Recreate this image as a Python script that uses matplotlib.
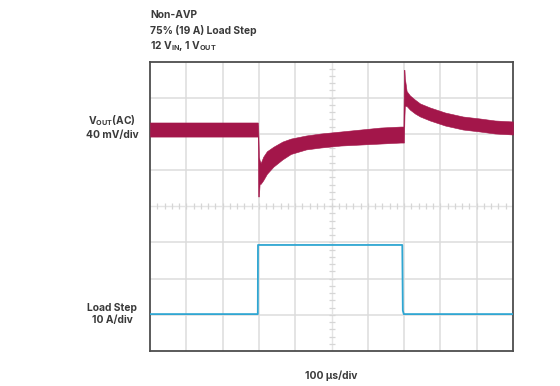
import numpy as np
import matplotlib
matplotlib.use("Agg")
import matplotlib.pyplot as plt

# ---- data ----
# VOUT (AC) band envelope: time in us, deviation in mV from pre-step level
vout_t = [0, 297, 298, 300, 302, 305, 312, 322, 340, 365, 388, 430, 470, 525,
          580, 635, 690, 698, 699.5, 701, 702, 707, 716, 730, 744, 771, 813,
          862, 909, 950, 1000]
vout_top = [7.8, 7.8, 4, -30, -34, -37, -30, -24, -19, -13.3, -10, -6.6, -4.4,
            -2.2, 0, 2.2, 3.3, 3.3, 66, 66, 57, 42.5, 37.7, 33, 28.8, 24.4,
            18.8, 14.4, 12.2, 10, 8.9]
vout_bot = [-7.8, -7.8, -74, -74, -60, -60, -56, -49, -41, -33, -27, -22, -19.9,
            -17.7, -16.6, -15.5, -14.4, -14.4, -14.4, 15, 26, 26, 22, 17.7,
            14.4, 10, 4.4, 0, -2.2, -4.4, -5.5]
# Load step current: time in us, current in A
load_t = [0, 297, 297.5, 695, 696.5, 699, 1000]
load_i = [0, 0, 19.1, 19.1, 1.0, 0, 0]

title_lines = ["Non-AVP", "75% (19 A) Load Step", r"12 V$_{\rm IN}$, 1 V$_{\rm OUT}$"]
vout_label = "V$_{\\rm OUT}$(AC)\n40 mV/div"
load_label = "Load Step\n10 A/div"
time_label = "100 µs/div"

# scope settings
US_PER_DIV = 100.0
MV_PER_DIV = 40.0
A_PER_DIV = 10.0
VOUT_OFFSET_DIV = 6.12
LOAD_OFFSET_DIV = 1.02

plt.rcParams['mathtext.fontset'] = 'custom'
plt.rcParams['mathtext.rm'] = 'Inter:bold'
plt.rcParams['mathtext.default'] = 'rm'

fig = plt.figure(figsize=(5.6, 3.86), dpi=100)
ax = fig.add_axes([150/560, 1-351/386, 363/560, 289.5/386])
ax.set_xlim(0, 10)
ax.set_ylim(0, 8)

grid_c = '#dcdcdc'
for gx in range(1, 10):
    if gx != 5:
        ax.axvline(gx, color=grid_c, lw=1.1, zorder=1)
for gy in range(1, 8):
    if gy != 4:
        ax.axhline(gy, color=grid_c, lw=1.1, zorder=1)
# center cross with minor ticks
ax.axvline(5, color='#e4e4e4', lw=1.0, zorder=1)
ax.axhline(4, color='#e4e4e4', lw=1.0, zorder=1)
mx = np.arange(0.2, 10, 0.2)
ax.plot(mx, np.full_like(mx, 4), ls='none', marker='|', ms=4, mew=0.9, color='#d6d6d6', zorder=1)
my = np.arange(0.2, 8, 0.2)
ax.plot(np.full_like(my, 5), my, ls='none', marker='_', ms=4, mew=0.9, color='#d6d6d6', zorder=1)

vt = np.array(vout_t) / US_PER_DIV
vtop = VOUT_OFFSET_DIV + np.array(vout_top) / MV_PER_DIV
vbot = VOUT_OFFSET_DIV + np.array(vout_bot) / MV_PER_DIV
red = '#a3164a'
ax.fill_between(vt, vbot, vtop, color=red, lw=0.4, edgecolor=red, zorder=3)

lt = np.array(load_t) / US_PER_DIV
li = LOAD_OFFSET_DIV + np.array(load_i) / A_PER_DIV
ax.plot(lt, li, color='#2fa6d2', lw=1.3, zorder=3)

ax.set_xticks([])
ax.set_yticks([])
for s in ax.spines.values():
    s.set_color('#4d4d4d')
    s.set_linewidth(1.3)

tc = '#3a3a3a'
fkw = dict(family='Inter', weight='bold', color=tc, fontsize=7.4)
for i, line in enumerate(title_lines):
    fig.text(150/560, 1-(15 + 15.5*i)/386, line, ha='left', va='center', **fkw)
fig.text(112/560, 1-126.5/386, vout_label, ha='center', va='center', multialignment='center', linespacing=1.3, **fkw)
fig.text(112/560, 1-314/386, load_label, ha='center', va='center', multialignment='center', linespacing=1.3, **fkw)
fig.text(331/560, 1-376/386, time_label, ha='center', va='center', **fkw)

fig.savefig('out.png', dpi=100)
